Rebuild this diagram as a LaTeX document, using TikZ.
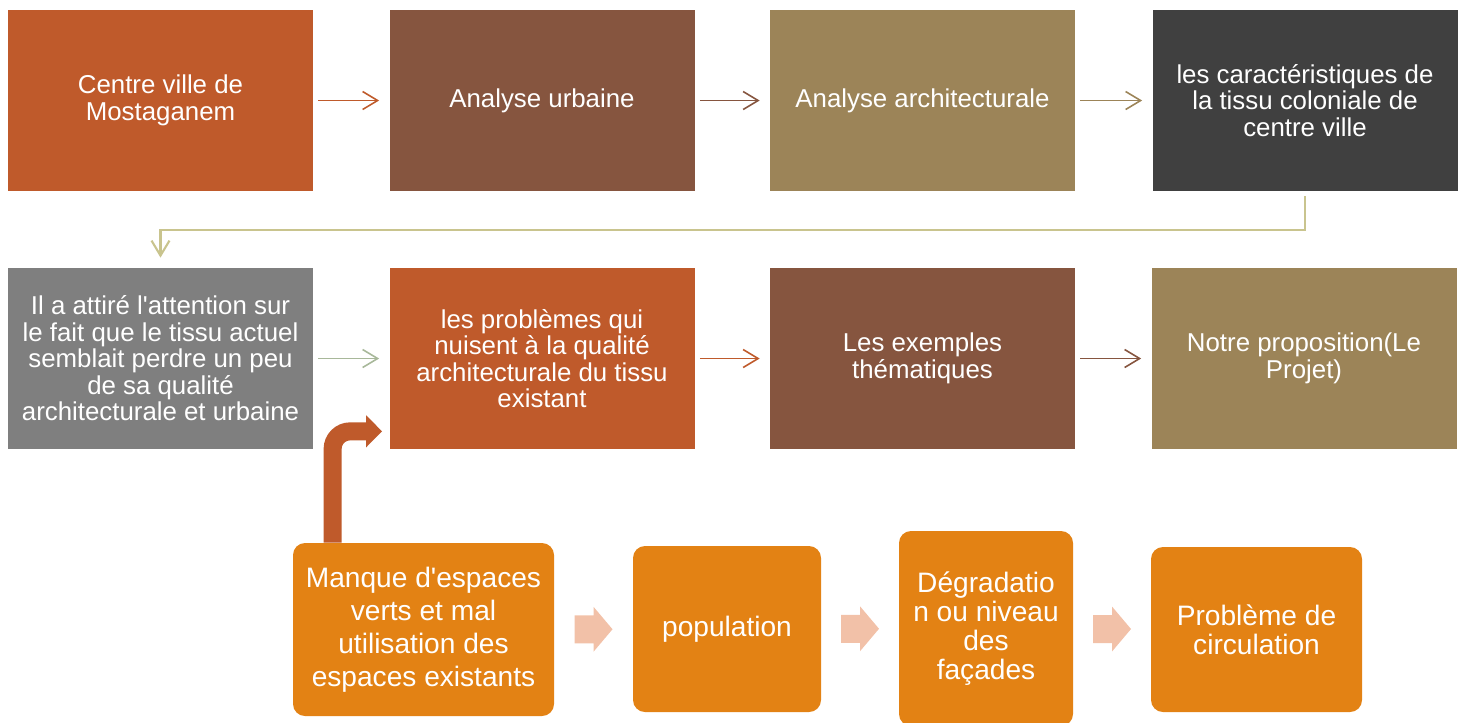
\documentclass[tikz,border=0pt]{standalone}
\usepackage{fontspec}
\setmainfont{Liberation Sans}[Ligatures=TeXOff]
\usetikzlibrary{arrows.meta, calc}
\definecolor{brick}{HTML}{BF5A2B}
\definecolor{umber}{HTML}{86553F}
\definecolor{khaki}{HTML}{9C8458}
\definecolor{slate}{HTML}{404040}
\definecolor{ash}{HTML}{7F7F7F}
\definecolor{amber}{HTML}{E38214}
\definecolor{salmon}{HTML}{F2C1A8}
\definecolor{sage}{HTML}{A8B89A}
\definecolor{straw}{HTML}{C9C48E}

\begin{document}
\begin{tikzpicture}[
    x=0.2mm, y=-0.2mm,
    tile/.style={
        rectangle, minimum width=61mm, minimum height=36.2mm,
        inner sep=1mm, text=white, align=center,
        font=\fontsize{14.7}{15.1}\selectfont,
    },
    pill/.style={
        rectangle, rounded corners=2.4mm, fill=amber, text=white,
        align=center, inner sep=1mm,
        font=\fontsize{16}{16.4}\selectfont,
    },
    flowarrow/.style={
        line width=0.9pt,
        -{Straight Barb[length=3mm, width=3.6mm]},
        shorten <=1mm, shorten >=2mm,
    },
    bendarrow/.style={
        brick, line width=3.6mm, rounded corners=3.5mm,
        -{Triangle[length=3.2mm, width=6.2mm]},
    },
]
\useasboundingbox (0,0) rectangle (1465,722);

% =============================================
% TOP ROW – study steps
% =============================================
\node[tile, fill=brick] (t1) at (160.5,100.5) {Centre ville de\\Mostaganem};
\node[tile, fill=umber] (t2) at (542,100.5) {Analyse urbaine};
\node[tile, fill=khaki] (t3) at (922.5,100.5) {Analyse architecturale};
\node[tile, fill=slate] (t4) at (1305,100.5) {les caractéristiques de\\la tissu coloniale de\\centre ville};

\draw[flowarrow, brick] (t1.east) -- (t2.west);
\draw[flowarrow, umber] (t2.east) -- (t3.west);
\draw[flowarrow, khaki] (t3.east) -- (t4.west);

% =============================================
% SECOND ROW – diagnosis and proposal
% =============================================
\node[tile, fill=ash] (s1) at (160.5,358.5) {Il a attiré l'attention sur\\le fait que le tissu actuel\\semblait perdre un peu\\de sa qualité\\architecturale et urbaine};
\node[tile, fill=brick] (s2) at (542,358.5) {les problèmes qui\\nuisent à la qualité\\architecturale du tissu\\existant};
\node[tile, fill=umber] (s3) at (922.5,358.5) {Les exemples\\thématiques};
\node[tile, fill=khaki] (s4) at (1304,358.5) {Notre proposition(Le\\Projet)};

% Return line from the first row
\draw[flowarrow, straw, line width=1.2pt] (t4.south) -- ++(0,39) -| (s1.north);

\draw[flowarrow, sage] (s1.east) -- (s2.west);
\draw[flowarrow, brick] (s2.east) -- (s3.west);
\draw[flowarrow, umber] (s3.east) -- (s4.west);

% =============================================
% BOTTOM ROW – the problems
% =============================================
\node[pill, minimum width=52.2mm, minimum height=34.6mm, font=\fontsize{16}{18.8}\selectfont] (pa) at (423.5,629.5) {Manque d'espaces\\verts et mal\\utilisation des\\espaces existants};
\node[pill, minimum width=37.6mm, minimum height=33.2mm] (pb) at (727,629) {population};
\node[pill, minimum width=34.8mm, minimum height=39mm] (pc) at (986,628.5) {Dégradatio\\n ou niveau\\des\\façades};
\node[pill, minimum width=42.2mm, minimum height=33mm] (pd) at (1256.5,629.5) {Problème de\\circulation};

% Block arrows between the problems
\foreach \a/\b in {pa/pb, pb/pc, pc/pd}
  \fill[salmon] ($(\a.east)!0.5!(\b.west)$) ++(-19,-14) -- ++(19,0) -- ++(0,-8.5)
    -- ++(19,22.5) -- ++(-19,22.5) -- ++(0,-8.5) -- ++(-19,0) -- cycle;

% Bent arrow up to the problems box
\draw[bendarrow] ($(pa.north west)+(40,0)$) |- ($(s2.south west)+(-7,-18)$);

\end{tikzpicture}
\end{document}
